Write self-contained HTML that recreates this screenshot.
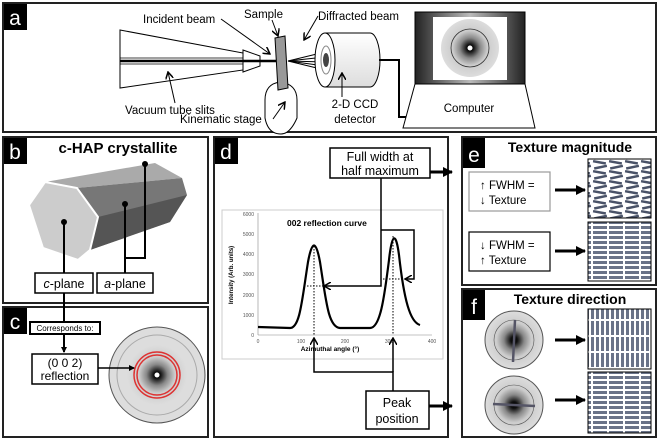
<!DOCTYPE html>
<html><head><style>body{margin:0;background:#fff}svg{display:block;font-family:"Liberation Sans",sans-serif}</style></head><body>
<svg width="660" height="442" viewBox="0 0 660 442" xmlns="http://www.w3.org/2000/svg">
<defs>
<radialGradient id="ring" cx="50%" cy="50%" r="50%">
<stop offset="0" stop-color="#000"/><stop offset="0.12" stop-color="#111"/><stop offset="0.35" stop-color="#888"/><stop offset="0.6" stop-color="#ccc"/><stop offset="1" stop-color="#ddd"/></radialGradient>
<linearGradient id="mon" x1="0" x2="1"><stop offset="0" stop-color="#222"/><stop offset="0.5" stop-color="#bbb"/><stop offset="1" stop-color="#222"/></linearGradient>
<linearGradient id="cyl" x1="0" y1="0" x2="0" y2="1"><stop offset="0" stop-color="#fff"/><stop offset="1" stop-color="#ddd"/></linearGradient>
<pattern id="hbar" width="16" height="5" patternUnits="userSpaceOnUse"><rect x="1" y="1" width="14" height="3" fill="#6a7388"/></pattern>
<pattern id="vbar" width="5" height="16" patternUnits="userSpaceOnUse"><rect x="1" y="1" width="3" height="14" fill="#6a7388"/></pattern>
<pattern id="tbar" width="16" height="10" patternUnits="userSpaceOnUse"><rect x="1" y="1" width="13" height="2.5" fill="#4a5368" transform="rotate(10 7 2)"/><rect x="2" y="6" width="13" height="2.5" fill="#4a5368" transform="rotate(-12 8 7)"/></pattern>
<marker id="ah" markerWidth="6" markerHeight="6" refX="5" refY="3" orient="auto" markerUnits="userSpaceOnUse"><path d="M0,0 L6,3 L0,6z" fill="#000"/></marker>
<marker id="ahb" markerWidth="10" markerHeight="10" refX="9" refY="5" orient="auto" markerUnits="userSpaceOnUse"><path d="M0,0 L10,5 L0,10z" fill="#000"/></marker>
<marker id="ao" markerWidth="8" markerHeight="8" refX="7" refY="4" orient="auto" markerUnits="userSpaceOnUse"><path d="M0,0 L7,4 L0,8" fill="none" stroke="#000" stroke-width="1.5"/></marker>
</defs>
<rect width="660" height="442" fill="#fff"/>
<g fill="none" stroke="#222" stroke-width="2">
<rect x="3" y="3" width="653" height="129"/>
<rect x="3" y="137" width="205" height="166"/>
<rect x="3" y="307" width="205" height="130"/>
<rect x="214" y="137" width="234" height="300"/>
<rect x="462" y="137" width="194" height="148"/>
<rect x="462" y="289" width="194" height="148"/>
</g>
<g fill="#000"><rect x="4" y="4" width="23" height="26"/><rect x="4" y="138" width="23" height="26"/><rect x="4" y="308" width="23" height="26"/><rect x="215" y="138" width="23" height="26"/><rect x="463" y="138" width="22" height="30"/><rect x="463" y="290" width="22" height="30"/></g>
<g fill="#fff" font-size="21" text-anchor="middle"><text x="15" y="25">a</text><text x="15" y="159">b</text><text x="15" y="329">c</text><text x="226" y="159">d</text><text x="474" y="162">e</text><text x="474" y="314">f</text></g>

<!-- panel a -->
<polygon points="120,30 243,53 243,70 120,88" fill="#fff" stroke="#000" stroke-width="1"/>
<polygon points="243,50 260,56 260,66 243,72" fill="#fff" stroke="#000"/>
<line x1="120" y1="61" x2="280" y2="61" stroke="#000" stroke-width="2.5"/>
<line x1="120" y1="58" x2="243" y2="58" stroke="#000" stroke-width="0.7"/>
<line x1="120" y1="64" x2="243" y2="64" stroke="#000" stroke-width="0.7"/>
<path d="M265,100 Q265,84 280,82 Q297,84 297,100 L297,118 Q290,134 281,134 Q268,134 265,118Z" fill="#fff" stroke="#000"/>
<polygon points="275,38 285,36 288,88 278,90" fill="#999" stroke="#000"/>
<g stroke="#000" stroke-width="1"><line x1="288" y1="61" x2="325" y2="52"/><line x1="288" y1="61" x2="325" y2="57"/><line x1="288" y1="61" x2="325" y2="62"/><line x1="288" y1="61" x2="325" y2="66"/><line x1="288" y1="61" x2="325" y2="70"/></g>
<path d="M325,33 L370,33 A10,27 0 0 1 370,87 L325,87" fill="url(#cyl)" stroke="#000"/>
<ellipse cx="325" cy="60" rx="10" ry="27" fill="#fff" stroke="#000"/>
<ellipse cx="326" cy="60" rx="5" ry="14" fill="none" stroke="#888"/>
<ellipse cx="326" cy="60" rx="3" ry="7" fill="#444"/>
<polyline points="379,60 399,60 399,117 412,117" fill="none" stroke="#000" stroke-width="2"/>
<rect x="415" y="12" width="110" height="72" fill="url(#mon)" stroke="#000"/>
<rect x="433" y="17" width="74" height="63" fill="#fff"/>
<circle cx="470" cy="48" r="29" fill="url(#ring)"/>
<circle cx="470" cy="48" r="19" fill="none" stroke="#333" stroke-width="0.8"/>
<circle cx="470" cy="48" r="2.5" fill="#fff"/>
<polygon points="415,84 525,84 535,128 403,128" fill="#fff" stroke="#000"/>
<g font-size="11.5" fill="#000">
<text x="143" y="23">Incident beam</text><text x="244" y="18">Sample</text><text x="318" y="20">Diffracted beam</text>
<text x="125" y="114">Vacuum tube slits</text><text x="180" y="123">Kinematic stage</text>
<text x="355" y="108" text-anchor="middle">2-D CCD</text><text x="355" y="123" text-anchor="middle">detector</text>
<text x="469" y="112" text-anchor="middle">Computer</text></g>
<g stroke="#000" stroke-width="1" fill="none" marker-end="url(#ao)"><line x1="221" y1="19" x2="270" y2="54"/><line x1="272" y1="20" x2="278" y2="36"/><line x1="318" y1="16" x2="304" y2="40"/><line x1="175" y1="103" x2="168" y2="72"/><line x1="273" y1="119" x2="285" y2="102"/><line x1="342" y1="97" x2="342" y2="73"/></g>

<!-- panel b -->
<text x="118" y="153" font-size="15" font-weight="bold" text-anchor="middle">c-HAP crystallite</text>
<polygon points="45,182 155,163 182,178 77,188" fill="#aaa"/>
<polygon points="77,188 182,178 187,195 170,222 90,250 98,217" fill="#777"/>
<polygon points="98,217 187,195 170,222 90,250" fill="#555"/>
<polygon points="45,182 77,188 98,217 90,250 78,260 43,248 29,205" fill="#ccc" stroke="#fff" stroke-width="2"/>
<g stroke="#000" stroke-width="2" fill="none"><line x1="64" y1="222" x2="64" y2="273"/><line x1="125" y1="204" x2="125" y2="273"/><polyline points="145,164 145,258 125,258"/><line x1="64" y1="293" x2="64" y2="322"/></g>
<g fill="#000"><circle cx="64" cy="222" r="3"/><circle cx="125" cy="204" r="3"/><circle cx="145" cy="164" r="3"/></g>
<rect x="35" y="273" width="58" height="20" fill="#fff" stroke="#000" stroke-width="1.5"/>
<rect x="97" y="273" width="56" height="20" fill="#fff" stroke="#000" stroke-width="1.5"/>
<g font-size="12.5" text-anchor="middle"><text x="64" y="288"><tspan font-style="italic">c</tspan>-plane</text><text x="125" y="288"><tspan font-style="italic">a</tspan>-plane</text></g>

<!-- panel c -->
<rect x="30" y="322" width="70" height="12" fill="#fff" stroke="#000" stroke-width="2"/>
<text x="65" y="331" font-size="8" text-anchor="middle">Corresponds to:</text>
<line x1="64" y1="334" x2="64" y2="352" stroke="#000" stroke-width="2" marker-end="url(#ah)"/>
<rect x="32" y="354" width="66" height="30" fill="#fff" stroke="#000" stroke-width="1.5"/>
<g font-size="12" text-anchor="middle"><text x="65" y="367">(0 0 2)</text><text x="65" y="380">reflection</text></g>
<circle cx="157" cy="375" r="48" fill="#ddd" stroke="#555"/>
<circle cx="157" cy="375" r="40" fill="none" stroke="#aaa"/>
<circle cx="157" cy="375" r="30" fill="url(#ring)"/>
<circle cx="157" cy="375" r="23" fill="none" stroke="#d33" stroke-width="1.5"/>
<circle cx="157" cy="375" r="20" fill="none" stroke="#d33" stroke-width="1.5"/>
<circle cx="157" cy="375" r="2.5" fill="#fff"/>
<line x1="98" y1="368" x2="134" y2="368" stroke="#000" stroke-width="1.5" marker-end="url(#ah)"/>

<!-- panel d -->
<rect x="222" y="210" width="221" height="149" fill="#fff" stroke="#ccc"/>
<g stroke="#888" stroke-width="0.6"><line x1="258" y1="213" x2="258" y2="335"/><line x1="258" y1="335" x2="432" y2="335"/></g>
<g font-size="5" fill="#555" text-anchor="end"><text x="254" y="216">6000</text><text x="254" y="236">5000</text><text x="254" y="256">4000</text><text x="254" y="276">3000</text><text x="254" y="297">2000</text><text x="254" y="317">1000</text><text x="254" y="337">0</text></g>
<g font-size="5" fill="#555" text-anchor="middle"><text x="258" y="343">0</text><text x="301" y="343">100</text><text x="345" y="343">200</text><text x="389" y="343">300</text><text x="432" y="343">400</text></g>
<text x="330" y="351" font-size="6.5" font-weight="bold" text-anchor="middle">Azimuthal angle (°)</text>
<text x="233" y="275" font-size="6" font-weight="bold" text-anchor="middle" transform="rotate(-90 233 275)">Intensity (Arb. units)</text>
<text x="287" y="226" font-size="8.5" font-weight="bold">002 reflection curve</text>
<path d="M258,327 L290,328 C300,328 302,300 308,262 C312,240 316,240 320,262 C326,300 328,327 340,328 L370,328 C380,328 384,300 389,260 C392,232 396,232 399,255 C404,300 410,322 420,325" fill="none" stroke="#000" stroke-width="2.2"/>
<g stroke="#000" stroke-width="1" stroke-dasharray="1.5,1.5"><line x1="314" y1="246" x2="314" y2="335"/><line x1="393" y1="236" x2="393" y2="335"/><line x1="304" y1="286" x2="325" y2="286"/><line x1="383" y1="279" x2="405" y2="279"/></g>
<rect x="330" y="148" width="100" height="30" fill="#fff" stroke="#000" stroke-width="1.5"/>
<g font-size="12.5" text-anchor="middle"><text x="380" y="161">Full width at</text><text x="380" y="175">half maximum</text></g>
<g stroke="#000" stroke-width="1.5" fill="none"><polyline points="381,178 381,286 324,286" marker-end="url(#ao)"/><polyline points="381,230 414,230 414,279 405,279" marker-end="url(#ao)"/><polyline points="393,391 393,372 314,372 314,338" marker-end="url(#ao)"/><line x1="393" y1="372" x2="393" y2="338" marker-end="url(#ao)"/></g>
<rect x="366" y="391" width="63" height="38" fill="#fff" stroke="#000" stroke-width="1.5"/>
<g font-size="12.5" text-anchor="middle"><text x="397" y="407">Peak</text><text x="397" y="423">position</text></g>
<g stroke="#000" stroke-width="3"><line x1="430" y1="172" x2="452" y2="172" marker-end="url(#ahb)"/><line x1="429" y1="406" x2="452" y2="406" marker-end="url(#ahb)"/></g>

<!-- panel e -->
<text x="570" y="152" font-size="14" font-weight="bold" text-anchor="middle">Texture magnitude</text>
<rect x="469" y="172" width="81" height="39" fill="#fff" stroke="#999" stroke-width="1.2"/>
<rect x="469" y="232" width="81" height="39" fill="#fff" stroke="#000" stroke-width="1.2"/>
<g font-size="11.5"><text x="480" y="189">↑ FWHM =</text><text x="480" y="204">↓ Texture</text><text x="480" y="249">↓ FWHM =</text><text x="480" y="264">↑ Texture</text></g>
<rect x="588" y="159" width="63" height="59" fill="url(#tbar)" stroke="#000"/>
<rect x="588" y="222" width="63" height="59" fill="url(#hbar)" stroke="#000"/>
<g stroke="#000" stroke-width="3"><line x1="555" y1="190" x2="585" y2="190" marker-end="url(#ahb)"/><line x1="555" y1="251" x2="585" y2="251" marker-end="url(#ahb)"/></g>

<!-- panel f -->
<text x="570" y="304" font-size="14" font-weight="bold" text-anchor="middle">Texture direction</text>
<circle cx="514" cy="340" r="29" fill="url(#ring)" stroke="#555"/>
<circle cx="514" cy="340" r="20" fill="none" stroke="#555" stroke-width="0.6"/>
<line x1="515" y1="320" x2="513" y2="362" stroke="#556" stroke-width="2.5"/>
<circle cx="514" cy="405" r="29" fill="url(#ring)" stroke="#555"/>
<circle cx="514" cy="405" r="20" fill="none" stroke="#555" stroke-width="0.6"/>
<line x1="493" y1="404" x2="535" y2="406" stroke="#556" stroke-width="2.5"/>
<rect x="588" y="309" width="63" height="60" fill="url(#vbar)" stroke="#000"/>
<rect x="588" y="372" width="63" height="61" fill="url(#hbar)" stroke="#000"/>
<g stroke="#000" stroke-width="3"><line x1="555" y1="340" x2="585" y2="340" marker-end="url(#ahb)"/><line x1="555" y1="400" x2="585" y2="400" marker-end="url(#ahb)"/></g>
</svg>
</body></html>
